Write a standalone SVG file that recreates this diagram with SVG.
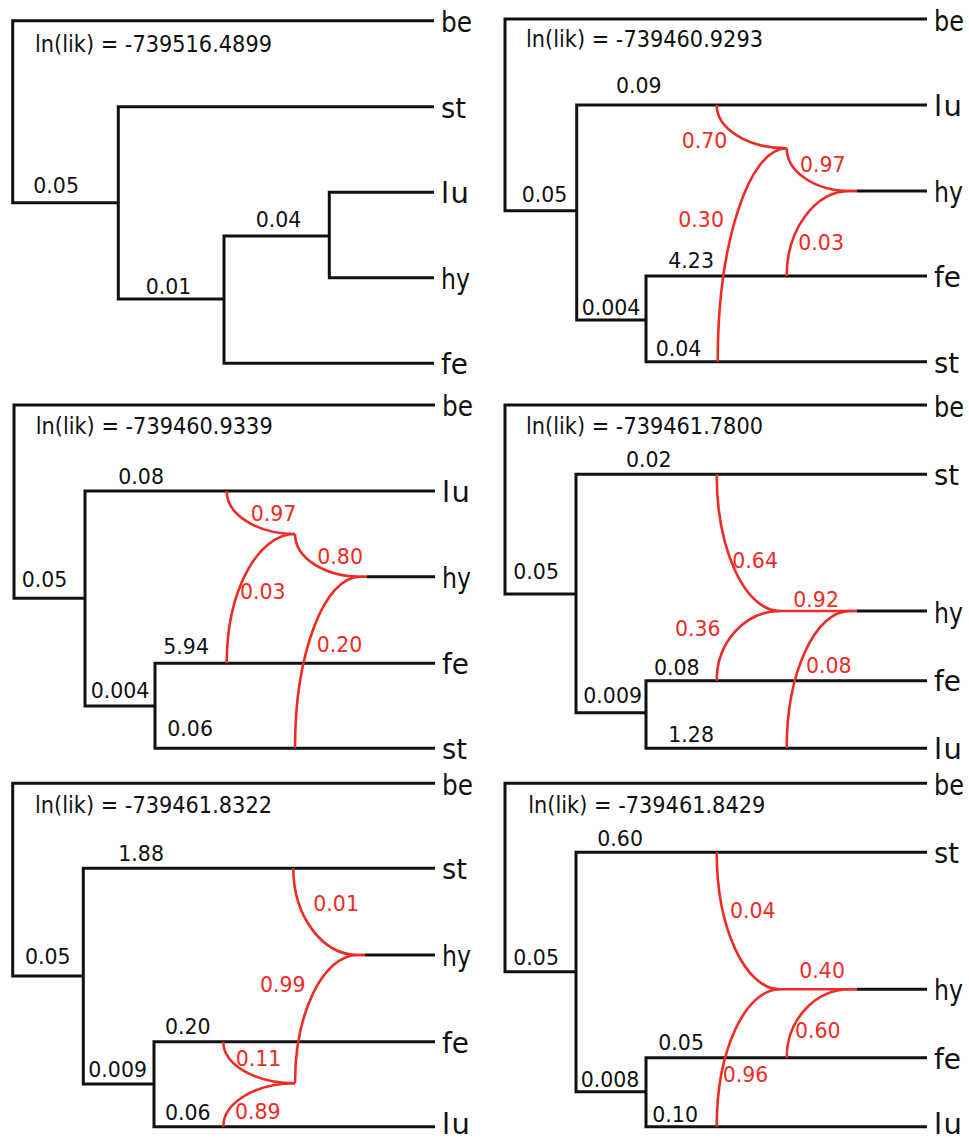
<svg xmlns="http://www.w3.org/2000/svg" width="969" height="1139" viewBox="0 0 969 1139">
<style>
.br{fill:none;stroke:#111;stroke-width:3;stroke-linejoin:miter;stroke-linecap:butt}
.rt{fill:none;stroke:#ee2b24;stroke-width:2.6;stroke-linecap:butt}
.lab{font-family:"DejaVu Sans",sans-serif;font-size:20.5px;fill:#111}
.rlab{font-family:"DejaVu Sans",sans-serif;font-size:20.5px;fill:#ee2b24}
.lik{font-family:"DejaVu Sans",sans-serif;font-size:23px;fill:#111}
.tip{font-family:"DejaVu Sans",sans-serif;font-size:29px;fill:#111}
</style>
<rect width="969" height="1139" fill="#fff"/>

<!-- Panel 1 -->
<g id="panel1">
<g id="p1-connectors">
<path class="br" d="M434,20.7 H12.7 V202.7 H118.3 M434,106.7 H118.3 V299 H224 M329.3,236 H224 V363.3 H434 M434,192.3 H329.3 V277.7 H434"/>
<text class="lab" x="33.3" y="193.3">0.05</text>
<text class="lab" x="145.7" y="294">0.01</text>
<text class="lab" x="255.7" y="226.7">0.04</text>
</g>
<text class="lik" x="35" y="52" textLength="237" lengthAdjust="spacingAndGlyphs">ln(lik) = -739516.4899</text>
<g id="p1-be"><text class="tip" x="441" y="32" textLength="31" lengthAdjust="spacingAndGlyphs">be</text></g>
<g id="p1-st"><text class="tip" x="441" y="117.7" textLength="25" lengthAdjust="spacingAndGlyphs">st</text></g>
<g id="p1-lu"><text class="tip" x="441" y="203.3" textLength="28">lu</text></g>
<g id="p1-hy"><text class="tip" x="441" y="288.7" textLength="29" lengthAdjust="spacingAndGlyphs">hy</text></g>
<g id="p1-fe"><text class="tip" x="441" y="374.3" textLength="27" lengthAdjust="spacingAndGlyphs">fe</text></g>
</g>

<!-- Panel 2 -->
<g id="panel2">
<g id="p2-connectors">
<path class="br" d="M927,19 H505 V210.7 H576.7 M927,105 H576.7 V320 H646 M927,276 H646 V361.7 H927 M856.7,191 H927"/>
<path class="rt" d="M716.7,105 C716.7,128.9 748.1,148.3 786.7,148.3"/>
<path class="rt" d="M717.7,361.7 C717.7,243.9 748.6,148.3 786.7,148.3"/>
<path class="rt" d="M786.7,148.3 C786.7,171.9 815.1,191 850,191 H856.7"/>
<path class="rt" d="M786.7,276 C786.7,229.1 815.1,191 850,191 H856.7"/>
<text class="lab" x="616" y="93.3">0.09</text>
<text class="lab" x="521.7" y="201.7">0.05</text>
<text class="lab" x="668.3" y="268.3">4.23</text>
<text class="lab" x="581.7" y="315">0.004</text>
<text class="lab" x="655.7" y="356">0.04</text>
<text class="rlab" x="681.7" y="148.3">0.70</text>
<text class="rlab" x="800" y="171.7">0.97</text>
<text class="rlab" x="678.3" y="226.7">0.30</text>
<text class="rlab" x="798.3" y="250">0.03</text>
</g>
<text class="lik" x="526" y="46.5" textLength="237" lengthAdjust="spacingAndGlyphs">ln(lik) = -739460.9293</text>
<g id="p2-be"><text class="tip" x="934" y="31" textLength="30" lengthAdjust="spacingAndGlyphs">be</text></g>
<g id="p2-lu"><text class="tip" x="934" y="116" textLength="28">lu</text></g>
<g id="p2-hy"><text class="tip" x="934" y="202" textLength="29" lengthAdjust="spacingAndGlyphs">hy</text></g>
<g id="p2-fe"><text class="tip" x="934" y="287" textLength="27" lengthAdjust="spacingAndGlyphs">fe</text></g>
<g id="p2-st"><text class="tip" x="934" y="372.7" textLength="25" lengthAdjust="spacingAndGlyphs">st</text></g>
</g>

<!-- Panel 3 -->
<g id="panel3">
<g id="p3-connectors">
<path class="br" d="M435,405 H14 V598.3 H85 M435,491 H85 V706 H155 M435,663.3 H155 V748.3 H435 M366.7,576.7 H435"/>
<path class="rt" d="M226.7,491 C226.7,514.7 257.3,534 295,534"/>
<path class="rt" d="M226.7,663.3 C226.7,591.9 257.3,534 295,534"/>
<path class="rt" d="M295,534 C295,557.6 324.1,576.7 360,576.7 H366.7"/>
<path class="rt" d="M295,748.3 C295,653.6 324.1,576.7 360,576.7 H366.7"/>
<text class="lab" x="118.3" y="484">0.08</text>
<text class="lab" x="21.7" y="587.3">0.05</text>
<text class="lab" x="163.3" y="654">5.94</text>
<text class="lab" x="90.7" y="698.3">0.004</text>
<text class="lab" x="167.3" y="736">0.06</text>
<text class="rlab" x="250.7" y="520.7">0.97</text>
<text class="rlab" x="317.3" y="564">0.80</text>
<text class="rlab" x="240" y="599">0.03</text>
<text class="rlab" x="316.7" y="651.7">0.20</text>
</g>
<text class="lik" x="35.7" y="433.5" textLength="237" lengthAdjust="spacingAndGlyphs">ln(lik) = -739460.9339</text>
<g id="p3-be"><text class="tip" x="442" y="416.3" textLength="31" lengthAdjust="spacingAndGlyphs">be</text></g>
<g id="p3-lu"><text class="tip" x="442" y="502" textLength="28">lu</text></g>
<g id="p3-hy"><text class="tip" x="442" y="587.7" textLength="29" lengthAdjust="spacingAndGlyphs">hy</text></g>
<g id="p3-fe"><text class="tip" x="442" y="674.3" textLength="27" lengthAdjust="spacingAndGlyphs">fe</text></g>
<g id="p3-st"><text class="tip" x="442" y="759.3" textLength="25" lengthAdjust="spacingAndGlyphs">st</text></g>
</g>

<!-- Panel 4 -->
<g id="panel4">
<g id="p4-connectors">
<path class="br" d="M927,405 H505 V594 H576 M927,474.3 H576 V712.7 H646 M927,680.7 H646 V748.3 H927 M856.7,611 H927"/>
<path class="rt" d="M716.7,474.3 C716.7,549.8 745.1,611 780,611"/>
<path class="rt" d="M716.7,680.7 C716.7,642.2 745.1,611 780,611 H856.7"/>
<path class="rt" d="M786.7,748.3 C786.7,672.5 815.1,611 850,611 H856.7"/>
<text class="lab" x="626" y="467.3">0.02</text>
<text class="lab" x="513.3" y="579.3">0.05</text>
<text class="lab" x="654" y="675">0.08</text>
<text class="lab" x="583.3" y="702.7">0.009</text>
<text class="lab" x="668.3" y="741.7">1.28</text>
<text class="rlab" x="732.3" y="568.3">0.64</text>
<text class="rlab" x="793.3" y="606.7">0.92</text>
<text class="rlab" x="675" y="636">0.36</text>
<text class="rlab" x="806" y="672.7">0.08</text>
</g>
<text class="lik" x="526" y="433.5" textLength="237" lengthAdjust="spacingAndGlyphs">ln(lik) = -739461.7800</text>
<g id="p4-be"><text class="tip" x="934" y="416.5" textLength="30" lengthAdjust="spacingAndGlyphs">be</text></g>
<g id="p4-st"><text class="tip" x="934" y="485.3" textLength="25" lengthAdjust="spacingAndGlyphs">st</text></g>
<g id="p4-hy"><text class="tip" x="934" y="622.5" textLength="29" lengthAdjust="spacingAndGlyphs">hy</text></g>
<g id="p4-fe"><text class="tip" x="934" y="691" textLength="27" lengthAdjust="spacingAndGlyphs">fe</text></g>
<g id="p4-lu"><text class="tip" x="934" y="759.3" textLength="28">lu</text></g>
</g>

<!-- Panel 5 -->
<g id="panel5">
<g id="p5-connectors">
<path class="br" d="M435,783.3 H12.7 V976 H83.3 M435,868.3 H83.3 V1084 H154 M435,1041.7 H154 V1126.7 H435 M365,955 H435"/>
<path class="rt" d="M293.3,868.3 C293.3,916.2 322.3,955 358,955 H365"/>
<path class="rt" d="M223.3,1041.7 C223.3,1064.7 255.4,1083.3 295,1083.3"/>
<path class="rt" d="M223.3,1126.7 C223.3,1102.7 255.4,1083.3 295,1083.3"/>
<path class="rt" d="M295,1083.3 C295,1012.5 323.2,955 358,955 H365"/>
<text class="lab" x="118.3" y="860.7">1.88</text>
<text class="lab" x="25" y="964">0.05</text>
<text class="lab" x="165" y="1034">0.20</text>
<text class="lab" x="88.3" y="1076.7">0.009</text>
<text class="lab" x="165" y="1120">0.06</text>
<text class="rlab" x="313.3" y="910.7">0.01</text>
<text class="rlab" x="260" y="992.3">0.99</text>
<text class="rlab" x="235.7" y="1066">0.11</text>
<text class="rlab" x="235" y="1119.3">0.89</text>
</g>
<text class="lik" x="35" y="813" textLength="237" lengthAdjust="spacingAndGlyphs">ln(lik) = -739461.8322</text>
<g id="p5-be"><text class="tip" x="442" y="794.6" textLength="31" lengthAdjust="spacingAndGlyphs">be</text></g>
<g id="p5-st"><text class="tip" x="442" y="879.3" textLength="25" lengthAdjust="spacingAndGlyphs">st</text></g>
<g id="p5-hy"><text class="tip" x="442" y="966" textLength="29" lengthAdjust="spacingAndGlyphs">hy</text></g>
<g id="p5-fe"><text class="tip" x="442" y="1052.7" textLength="27" lengthAdjust="spacingAndGlyphs">fe</text></g>
<g id="p5-lu"><text class="tip" x="442" y="1134" textLength="28">lu</text></g>
</g>

<!-- Panel 6 -->
<g id="panel6">
<g id="p6-connectors">
<path class="br" d="M927,783.3 H505 V971.7 H576 M927,852.3 H576 V1091.7 H646 M927,1057.7 H646 V1126.7 H927 M856.7,989.3 H927"/>
<path class="rt" d="M716.7,852.3 C716.7,927.9 745.1,989.3 780,989.3"/>
<path class="rt" d="M716.7,1126.7 C716.7,1050.9 745.1,989.3 780,989.3 H856.7"/>
<path class="rt" d="M786.7,1057.7 C786.7,1019.9 815.1,989.3 850,989.3 H856.7"/>
<text class="lab" x="597.3" y="846">0.60</text>
<text class="lab" x="513.3" y="965">0.05</text>
<text class="lab" x="658.3" y="1050">0.05</text>
<text class="lab" x="580.7" y="1086.7">0.008</text>
<text class="lab" x="652.3" y="1121.7">0.10</text>
<text class="rlab" x="730" y="918.3">0.04</text>
<text class="rlab" x="799.3" y="978.3">0.40</text>
<text class="rlab" x="795" y="1037.7">0.60</text>
<text class="rlab" x="722.7" y="1081.7">0.96</text>
</g>
<text class="lik" x="528.3" y="813" textLength="237" lengthAdjust="spacingAndGlyphs">ln(lik) = -739461.8429</text>
<g id="p6-be"><text class="tip" x="934" y="795" textLength="30" lengthAdjust="spacingAndGlyphs">be</text></g>
<g id="p6-st"><text class="tip" x="934" y="863.3" textLength="25" lengthAdjust="spacingAndGlyphs">st</text></g>
<g id="p6-hy"><text class="tip" x="934" y="1000.3" textLength="29" lengthAdjust="spacingAndGlyphs">hy</text></g>
<g id="p6-fe"><text class="tip" x="934" y="1068.7" textLength="27" lengthAdjust="spacingAndGlyphs">fe</text></g>
<g id="p6-lu"><text class="tip" x="934" y="1134" textLength="28">lu</text></g>
</g>
</svg>
